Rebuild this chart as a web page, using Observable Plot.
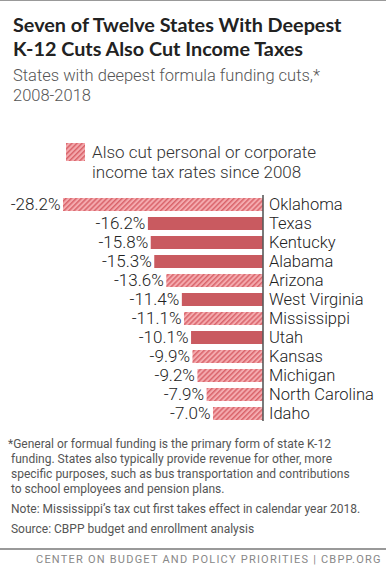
<!DOCTYPE html>
<html>
<head>
<meta charset="utf-8">
<script src="https://cdn.jsdelivr.net/npm/d3@7"></script>
<script src="https://cdn.jsdelivr.net/npm/@observablehq/plot@0.6"></script>
<style>
  html, body { margin: 0; padding: 0; background: #fff; }
  #page { position: relative; width: 386px; height: 576px; overflow: hidden; border-top: 1px solid #999; box-sizing: border-box; font-family: Roboto, sans-serif; }
  .abs { position: absolute; white-space: nowrap; }
  #title { left: 13px; top: 11px; font-family: Lato, sans-serif; font-weight: 700; font-size: 19.8px; line-height: 24px; color: #222; }
  #subtitle { left: 13px; top: 65px; font-weight: 300; font-size: 16.5px; line-height: 20px; color: #555; }
  #legend { left: 66px; top: 141px; }
  #legend svg { position: absolute; left: 0; top: 1px; }
  #legend .txt { position: absolute; left: 26px; top: 0; font-weight: 300; font-size: 17px; line-height: 20px; color: #333; white-space: nowrap; }
  #chart { left: 0; top: 186px; }
  #notes { left: 8px; top: 436px; font-size: 12px; line-height: 15px; color: #555; }
  #notes p { margin: 0 0 5px 0; white-space: nowrap; }
  #rule { left: 0; top: 547px; width: 386px; height: 0; border-top: 2px solid #999; }
  #footer { left: 36px; top: 552px; font-size: 11px; letter-spacing: 1.22px; color: #888; line-height: 14px; }
</style>
</head>
<body>
<div id="page">
  <div id="title" class="abs">Seven of Twelve States With Deepest<br>K-12 Cuts Also Cut Income Taxes</div>
  <div id="subtitle" class="abs">States with deepest formula funding cuts,*<br>2008-2018</div>
  <div id="legend" class="abs">
    <svg width="20" height="18"><defs>
      <pattern id="hatchL" patternUnits="userSpaceOnUse" width="3.6" height="3.6" patternTransform="rotate(45)">
        <rect width="3.6" height="3.6" fill="#f4aaae"></rect>
        <rect width="1.5" height="3.6" fill="#d9646b"></rect>
      </pattern></defs>
      <rect width="19" height="18" fill="url(#hatchL)"></rect>
    </svg>
    <div class="txt">Also cut personal or corporate<br>income tax rates since 2008</div>
  </div>
  <div id="chart" class="abs"></div>
  <div id="notes" class="abs">
    <p>*General or formual funding is the primary form of state K-12<br>&nbsp;funding. States also typically provide revenue for other, more<br>&nbsp;specific purposes, such as bus transportation and contributions<br>&nbsp;to school employees and pension plans.</p>
    <p>&nbsp;Note: Mississippi’s tax cut first takes effect in calendar year 2018.</p>
    <p>&nbsp;Source: CBPP budget and enrollment analysis</p>
  </div>
  <div id="rule" class="abs"></div>
  <div id="footer" class="abs">CENTER ON BUDGET AND POLICY PRIORITIES | CBPP.ORG</div>
</div>
<script>
const states = ["Oklahoma","Texas","Kentucky","Alabama","Arizona","West Virginia","Mississippi","Utah","Kansas","Michigan","North Carolina","Idaho"];
const changes = [-28.2,-16.2,-15.8,-15.3,-13.6,-11.4,-11.1,-10.1,-9.9,-9.2,-7.9,-7.0];
const cutTaxes = [true,false,false,false,true,false,true,false,true,true,true,true];

const data = states.map((s, i) => ({state: s, value: changes[i], taxCut: cutTaxes[i]}));

const chart = Plot.plot({
  width: 386,
  height: 244,
  marginTop: 5,
  marginBottom: 5,
  marginLeft: 63,
  marginRight: 123.5,
  x: {domain: [d3.min(changes), 0], axis: null},
  y: {domain: states, axis: null, padding: 0.3},
  style: {fontFamily: "Roboto, sans-serif", background: "transparent"},
  marks: [
    Plot.barX(data.filter(d => !d.taxCut), {x: "value", y: "state", fill: "#c95a60"}),
    Plot.barX(data.filter(d => d.taxCut), {x: "value", y: "state", fill: "url(#hatch)"}),
    Plot.ruleX([0], {stroke: "#222", strokeWidth: 1.2, insetTop: 3, insetBottom: 5}),
    Plot.text(data, {x: "value", y: "state", text: d => d.value.toFixed(1) + "%", textAnchor: "end", dx: -3, fontSize: 17, fontWeight: 300, fill: "#222"}),
    Plot.text(data, {x: 0, y: "state", text: "state", textAnchor: "start", dx: 6, fontSize: 16.5, fontWeight: 300, fill: "#222"})
  ]
});

const defs = d3.select(chart).insert("defs", ":first-child");
const pat = defs.append("pattern").attr("id", "hatch").attr("patternUnits", "userSpaceOnUse")
  .attr("width", 3.6).attr("height", 3.6).attr("patternTransform", "rotate(45)");
pat.append("rect").attr("width", 3.6).attr("height", 3.6).attr("fill", "#f4aaae");
pat.append("rect").attr("width", 1.5).attr("height", 3.6).attr("fill", "#d9646b");

document.getElementById("chart").appendChild(chart);
</script>
</body>
</html>
